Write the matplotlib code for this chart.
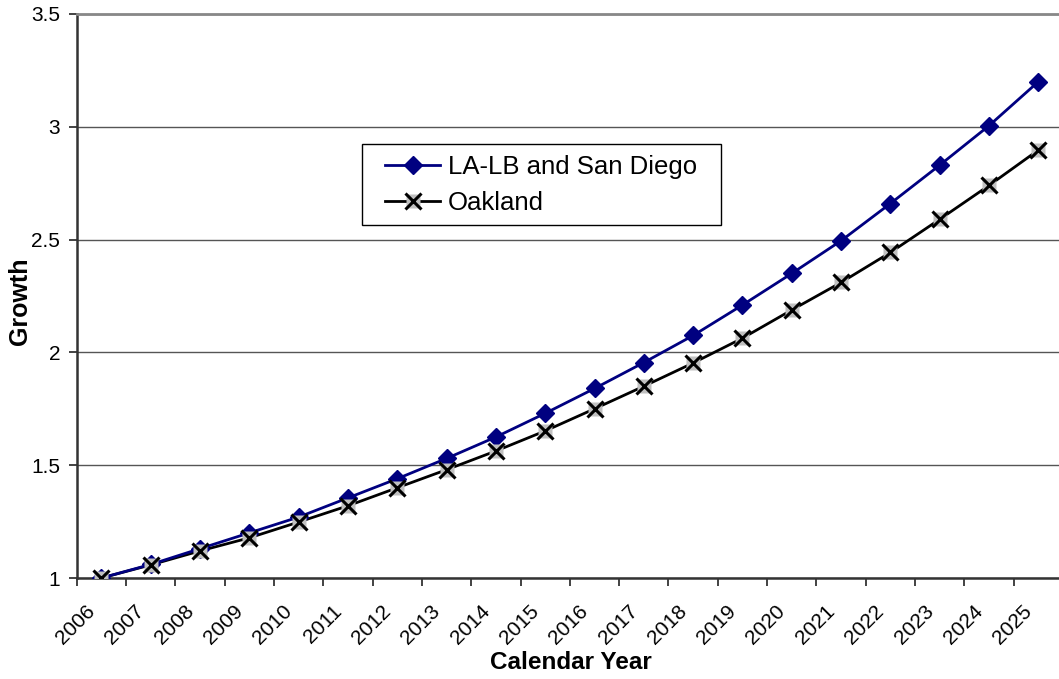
import matplotlib
matplotlib.use('Agg')
import matplotlib.pyplot as plt
import matplotlib.transforms as mtransforms
from matplotlib.legend_handler import HandlerTuple
from matplotlib.patches import Rectangle
import numpy as np

plt.rcParams['font.family'] = ['Liberation Sans', 'DejaVu Sans']

### data
years = [str(y) for y in range(2006, 2026)]
la_lb_sd = [1.00, 1.06, 1.13, 1.20, 1.27, 1.355, 1.44, 1.53, 1.625, 1.73,
            1.84, 1.955, 2.075, 2.21, 2.35, 2.495, 2.66, 2.83, 3.005, 3.20]
oakland = [1.00, 1.058, 1.12, 1.178, 1.248, 1.32, 1.40, 1.48, 1.563, 1.652,
           1.75, 1.85, 1.953, 2.063, 2.188, 2.31, 2.443, 2.59, 2.74, 2.897]
yticks = [1, 1.5, 2, 2.5, 3, 3.5]
ytick_labels = ['1', '1.5', '2', '2.5', '3', '3.5']

W, H = 1059, 679
fig = plt.figure(figsize=(W / 100, H / 100), dpi=100)
# plot area runs a little past the right edge, as in the original
ax = fig.add_axes([76.7 / W, 101 / H, 986.3 / W, 564 / H])

x = np.arange(len(years))

la_line, = ax.plot(x, la_lb_sd, color='#000080', lw=2, marker='D',
                   markersize=9.5, markerfacecolor='#000080',
                   markeredgecolor='#000080', zorder=4)
ak_line, = ax.plot(x, oakland, color='black', lw=2, zorder=3)
ak_sq, = ax.plot(x, oakland, ls='none', marker='s', markersize=10.5,
                 markerfacecolor='#c0c0c0', markeredgecolor='none', zorder=5)
ak_x, = ax.plot(x, oakland, ls='none', marker='x', markersize=11,
                markeredgecolor='black', markeredgewidth=2.2, zorder=6)

ax.set_xlim(-0.5, len(years) - 0.5)
ax.set_ylim(1, 3.5)

# category axis: labels at centres, tick marks between categories
ax.set_xticks(x)
ax.set_xticklabels(years, rotation=45, ha='right', rotation_mode='anchor')
ax.tick_params(axis='x', which='major', length=0, pad=17, labelsize=15)
ax.set_xticks(np.arange(-0.5, len(years)), minor=True)
ax.tick_params(axis='x', which='minor', length=6, width=1.2, color='#222222')
# nudge the slanted year labels left so they end just before the point
shift = mtransforms.ScaledTranslation(-16 / 100, 0, fig.dpi_scale_trans)
for lab in ax.get_xticklabels():
    lab.set_transform(lab.get_transform() + shift)

ax.set_yticks(yticks)
ax.set_yticklabels(ytick_labels)
ax.tick_params(axis='y', length=6, width=1.2, color='#222222', pad=6,
               labelsize=15)

ax.grid(axis='y', color='#555555', lw=1)
ax.set_axisbelow(True)

ax.spines['right'].set_visible(False)
ax.spines['top'].set_color('#888888')
ax.spines['top'].set_linewidth(2)
ax.spines['left'].set_color('#333333')
ax.spines['left'].set_linewidth(1.8)
ax.spines['bottom'].set_color('#333333')
ax.spines['bottom'].set_linewidth(1.8)

# axis titles placed in figure pixels
fig.text(571 / W, 1 - 669 / H, 'Calendar Year', fontsize=17.5,
         fontweight='bold', ha='center', va='baseline')
fig.text(20 / W, 1 - 301 / H, 'Growth', fontsize=18, fontweight='bold',
         rotation=90, ha='center', va='center')

# legend: square box drawn by hand, entries inside it
ax.add_patch(Rectangle((0.2893, 0.6259), 0.364, 0.1436, transform=ax.transAxes,
                       facecolor='white', edgecolor='black', lw=1, zorder=7))
leg = ax.legend([la_line, (ak_line, ak_sq, ak_x)],
                ['LA-LB and San Diego', 'Oakland'],
                handler_map={tuple: HandlerTuple(ndivide=1, pad=0)},
                loc='upper left', bbox_to_anchor=(0.3126, 0.7505),
                fontsize=18.5, frameon=False, handlelength=2.15,
                handletextpad=0.3, borderpad=0, labelspacing=0.47,
                borderaxespad=0)
leg.set_zorder(8)

fig.savefig('out.png', dpi=100)
plt.close(fig)
